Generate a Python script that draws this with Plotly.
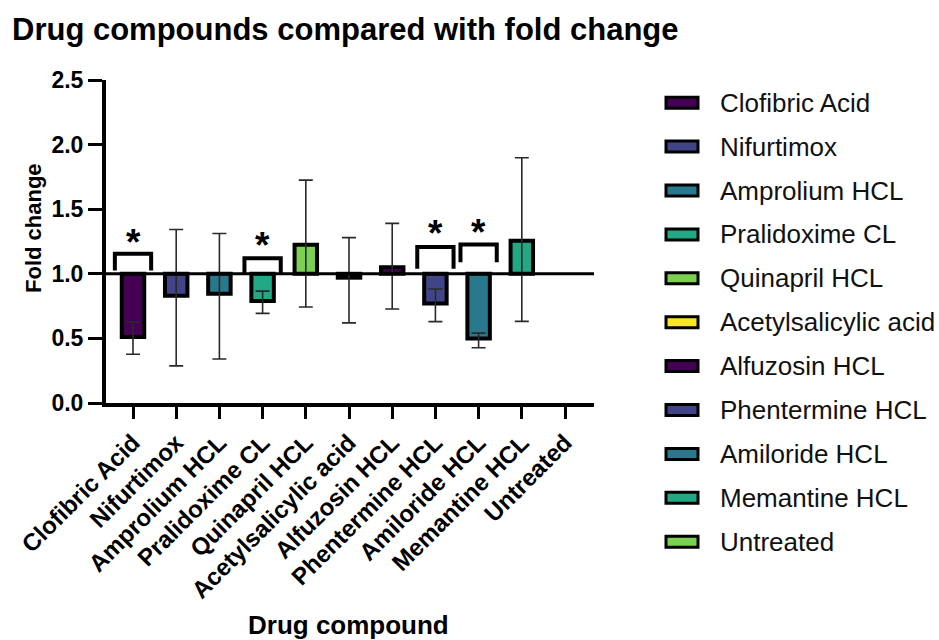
import plotly.graph_objects as go

# ---------------- data ----------------
categories = ["Clofibric Acid", "Nifurtimox", "Amprolium HCL", "Pralidoxime CL",
              "Quinapril HCL", "Acetylsalicylic acid", "Alfuzosin HCL",
              "Phentermine HCL", "Amiloride HCL", "Memantine HCL", "Untreated"]
fold_change = [0.51, 0.83, 0.845, 0.79, 1.225, 0.97, 1.05, 0.77, 0.50, 1.255, 1.0]
err_plus = [0.117, 0.513, 0.467, 0.076, 0.50, 0.31, 0.34, 0.112, 0.041, 0.643, 0.0]
err_minus = [0.133, 0.543, 0.505, 0.096, 0.482, 0.35, 0.323, 0.14, 0.072, 0.623, 0.0]
bar_colors = ["#440154", "#414487", "#2a788e", "#22a884", "#7ad151", "#fde725",
              "#440154", "#414487", "#2a788e", "#22a884", "#7ad151"]
baseline = 1.0
y_ticks = [0.0, 0.5, 1.0, 1.5, 2.0, 2.5]

sig_labels = ["Clofibric Acid", "Pralidoxime CL", "Phentermine HCL", "Amiloride HCL"]
bracket_top = [1.155, 1.12, 1.207, 1.227]
bracket_leg = [1.026, 1.005, 1.04, 1.09]
star_y = [1.28, 1.26, 1.35, 1.36]

FONT = "Arial, Liberation Sans, sans-serif"

# ---------------- figure ----------------
fig = go.Figure()
fig.add_trace(go.Bar(
    x=list(range(len(categories))),
    y=[v - baseline for v in fold_change],
    base=baseline,
    width=0.52,
    marker=dict(color=bar_colors,
                line=dict(color="black",
                          width=[0 if v == baseline else 4 for v in fold_change])),
    error_y=dict(type="data", symmetric=False, array=err_plus, arrayminus=err_minus,
                 color="#2a2a2a", thickness=1.6, width=7),
    showlegend=False,
    hoverinfo="skip",
))

# significance brackets
for lab, top, leg, sy in zip(sig_labels, bracket_top, bracket_leg, star_y):
    i = categories.index(lab)
    fig.add_trace(go.Scatter(
        x=[i - 0.42, i - 0.42, i + 0.42, i + 0.42],
        y=[leg, top, top, leg],
        mode="lines", line=dict(color="black", width=4),
        showlegend=False, hoverinfo="skip",
    ))
    fig.add_annotation(x=i, y=sy, xref="x", yref="y", text="<b>*</b>",
                       showarrow=False, yanchor="middle", yshift=-5,
                       font=dict(family=FONT, size=37, color="black"))

# baseline at 1.0
fig.add_shape(type="line", xref="paper", yref="y", x0=0, x1=1, y0=baseline, y1=baseline,
              line=dict(color="black", width=3), layer="above")

# plot geometry in pixels
L, R, T, B = 106, 594, 80, 403
PW, PH = R - L, B - T

def px_y(py):
    return (B - py) / PH

def px_x(px):
    return (px - L) / PW

# custom legend
leg_y0, leg_dy = 102.7, 43.9
for k, (name, col) in enumerate(zip(categories, bar_colors)):
    yc = leg_y0 + k * leg_dy
    fig.add_shape(type="rect", xref="paper", yref="paper",
                  x0=px_x(666), x1=px_x(698), y0=px_y(yc + 5.5), y1=px_y(yc - 5.5),
                  fillcolor=col, line=dict(color="black", width=3))
    fig.add_annotation(x=px_x(718), y=px_y(yc), xref="paper", yref="paper", text=name,
                       showarrow=False, xanchor="left", yanchor="middle",
                       font=dict(family=FONT, size=26, color="#111111"))

# axis titles
fig.add_annotation(x=px_x(348), y=px_y(625), xref="paper", yref="paper",
                   text="<b>Drug compound</b>", showarrow=False,
                   xanchor="center", yanchor="middle",
                   font=dict(family=FONT, size=26, color="black"))
fig.add_annotation(x=px_x(33), y=px_y(228), xref="paper", yref="paper",
                   text="<b>Fold change</b>", showarrow=False, textangle=-90,
                   xanchor="center", yanchor="middle",
                   font=dict(family=FONT, size=22, color="black"))

fig.update_layout(
    width=939, height=640,
    margin=dict(l=L, r=939 - R, t=T, b=640 - B, pad=0),
    paper_bgcolor="white", plot_bgcolor="white",
    title=dict(text="<b>Drug compounds compared with fold change</b>",
               x=12 / 939, xanchor="left", xref="container",
               y=1 - 29 / 640, yanchor="middle", yref="container",
               font=dict(family=FONT, size=31, color="black")),
    xaxis=dict(range=[-0.625, 10.671], tickmode="array",
               tickvals=list(range(len(categories))),
               ticktext=[f"<b>{c}</b>" for c in categories],
               tickangle=-45, ticks="outside", ticklen=12, tickwidth=3,
               tickcolor="black", showline=True, linecolor="black", linewidth=4,
               showgrid=False, zeroline=False, fixedrange=True,
               tickfont=dict(family=FONT, size=24, color="black")),
    yaxis=dict(range=[0, 2.5], tickmode="array", tickvals=y_ticks,
               ticktext=[f"<b>{v:.1f}</b>" for v in y_ticks],
               ticks="outside", ticklen=14, tickwidth=3, tickcolor="black",
               showline=True, linecolor="black", linewidth=4,
               showgrid=False, zeroline=False, fixedrange=True,
               tickfont=dict(family=FONT, size=23, color="black")),
    showlegend=False,
)

fig.write_html("out.html")
